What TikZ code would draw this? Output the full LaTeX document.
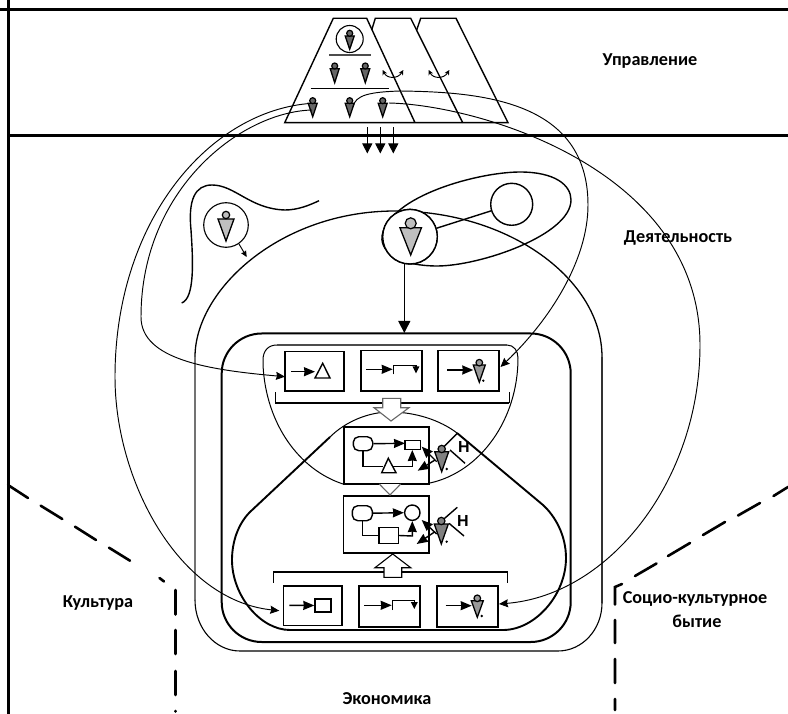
\documentclass[tikz,border=0pt]{standalone}
\usepackage{fontspec}
\setmainfont{Carlito}
\newfontfamily\hfont{Liberation Sans}
\usetikzlibrary{arrows.meta}
\tikzset{
  thinl/.style={line width=0.95pt,black},
  midl/.style={line width=1.4pt,black},
  thickl/.style={line width=2.1pt,black},
  framel/.style={line width=3pt,black},
  dashl/.style={line width=2.6pt,black,line cap=round},
  bx/.style={draw=black,line width=1.7pt,fill=white,inner sep=0pt,rectangle},
  inbx/.style={draw=black,line width=1.4pt,fill=white,inner sep=0pt,rectangle},
  rbx/.style={inbx,rounded corners=5.5pt},
  circ/.style={draw=black,circle,inner sep=0pt,fill=white},
  lbl/.style={font=\bfseries\fontsize{18.2}{20}\selectfont,align=center,inner sep=0pt},
  hl/.style={font=\hfont\bfseries\fontsize{16}{17}\selectfont,inner sep=0pt},
  tip/.style={-{Stealth[length=9pt,width=8pt,inset=1pt]}},
  intip/.style={-{Stealth[length=11pt,width=9pt,inset=0.5pt]}},
  smalltip/.style={-{Stealth[length=6pt,width=5.5pt,inset=0.5pt]}},
  bigtip/.style={-{Triangle[length=10pt,width=10pt]}},
  blockarrow/.style={draw=black!60,line width=1.1pt,fill=white,line join=miter},
}
% x, head y, head r, triangle top y, half width, tip y, fill
\newcommand{\fig}[7]{%
  \draw[line width=1.3pt,fill=#7,line join=miter] (#1-#5,#4)--(#1+#5,#4)--(#1,#6)--cycle;
  \draw[line width=1.2pt,fill=#7] (#1,#2) circle (#3);
}
\begin{document}
\begin{tikzpicture}[x=1pt,y=-1pt]
\useasboundingbox (0,0) rectangle (788,714);
% frame
\coordinate (ftl) at (8,0); \coordinate (fbl) at (8,714);
\coordinate (t1) at (0,10); \coordinate (t2) at (788,10);
\coordinate (m1) at (8,136); \coordinate (m2) at (788,136);
\draw[framel] (ftl)--(fbl);
\draw[framel] (t1)--(t2);
\draw[framel] (m1)--(m2);
% dashed borders
\draw[dashl] (8,485)--(28,498) (40.7,505.7)--(62.3,519) (75,526.7)--(96,540) (109,547.7)--(130,560.7) (159.5,578)--(164,581.5)
  (175.5,590)--(175.5,614.5) (175.5,630)--(175.5,654) (175.5,671)--(175.5,695) (175.5,711)--(175.5,711.5);
\draw[dashl] (788,487)--(773.5,496) (760,503)--(738,515.5) (725,522)--(703,535) (690,543)--(668,556) (635,576)--(656.5,563.5)
  (622,584)--(615,587)--(615,604.5) (615,620)--(615,643) (615,659)--(615,683) (615,699)--(615,710);
% trapezoids
\draw[midl,line join=miter] (371.7,30)--(375.3,18.3)--(410.7,18.3)--(462.7,122.7);
\draw[midl,line join=miter] (416.7,30)--(420.7,18.3)--(456,18.3)--(508,122.7)--(284.7,122.7)--(333.3,18.3)--(366.7,18.3)--(415,122.7);
\draw[line width=1.3pt,black!70] (329,55)--(370.7,55);
\draw[midl] (310.7,88.3)--(389,88.3);
\node[circ,line width=1.1pt,minimum size=27pt] (topc) at (349.7,39) {};
\fig{349.7}{33.3}{3}{36}{4.5}{49.3}{black!60}
\fig{334.7}{66}{3}{68.7}{4.5}{82.7}{black!60}
\fig{365.3}{66}{3}{68.7}{4.5}{82.7}{black!60}
\fig{312.7}{100.7}{3}{103.3}{4.5}{116.7}{black!60}
\fig{349.7}{100.7}{3}{103.3}{4.5}{116.7}{black!60}
\fig{382.7}{100.7}{3}{103.3}{4.5}{116.7}{black!60}
\coordinate (ca1) at (382.7,70); \coordinate (ca2) at (403.3,70);
\coordinate (cb1) at (428.7,70); \coordinate (cb2) at (449.3,70);
\draw[thinl,{Stealth[length=5pt,width=5pt]}-{Stealth[length=5pt,width=5pt]}] (ca1) .. controls (387,79) and (398,79) .. (ca2);
\draw[thinl,{Stealth[length=5pt,width=5pt]}-{Stealth[length=5pt,width=5pt]}] (cb1) .. controls (433,79) and (444,79) .. (cb2);
% down arrows
\foreach \n/\xx in {a/367.3,b/380.3,c/393.3}{
  \coordinate (d\n1) at (\xx,127.3); \coordinate (d\n2) at (\xx,153.5);
  \draw[thinl,bigtip] (d\n1)--(d\n2);
}
% outer activity shape
\draw[line width=1.3pt] (195,357) .. controls (195,290) and (280,211) .. (395,211) .. controls (510,211) and (602,280) .. (602,357);
\draw[line width=1.2pt,black!55] (195,357)--(195,600);
\draw[line width=1.2pt,black!80] (602,357)--(602,603);
\draw[line width=1.1pt] (195,600) arc (180:90:45 and 51) -- (558,651) arc (90:0:44 and 48);
% thick rounded rect
\draw[line width=2pt,rounded corners=40pt] (221.7,500)--(221.7,333.5)--(570.7,333.5)--(570.7,642)--(221.7,642)--cycle;
% lens
\draw[line width=1pt] (343,484) .. controls (300,470) and (266,425) .. (263,365) -- (263,360) .. controls (263,351) and (268,345) .. (277,345);
\draw[line width=1.4pt,black!70] (277,345)--(507,345);
\draw[line width=1pt] (507,345) .. controls (514,345) and (518,351) .. (518,358) .. controls (518,420) and (480,472) .. (430,483);
% lower thick shape
\draw[line width=1pt] (330,437) .. controls (345,422) and (368,412) .. (390,412) .. controls (415,412) and (440,420) .. (457,433);
\draw[line width=1.9pt] (330,437)--(250,512) .. controls (238,524) and (232,542) .. (232,560) .. controls (232,595) and (260,630) .. (290,630) -- (503,630) .. controls (535,630) and (566,595) .. (566,558) .. controls (566,535) and (555,516) .. (543,505) -- (457,433);
% activity figures
\draw[line width=1.4pt] (181.7,303) .. controls (195,298) and (193,260) .. (191,230) .. controls (188,200) and (195,185) .. (212,185) .. controls (235,185) and (250,209) .. (285,210) .. controls (298,210) and (310,205) .. (319,200.7);
\draw[line width=1.4pt] (382,236) .. controls (390,195) and (480,172) .. (520,172) .. controls (555,172) and (571,185) .. (571,200) .. controls (571,235) and (480,266) .. (437,266) .. controls (405,266) and (380,255) .. (382,236) -- cycle;
\node[circ,line width=1.1pt,minimum size=44.6pt] (pc1) at (226,225) {};
\fig{226}{215}{3.7}{219}{8}{241}{black!25}
\node[circ,line width=1.4pt,minimum size=54.6pt] (pc2) at (410,236.7) {};
\node[circ,line width=1.4pt,minimum size=42pt] (pc3) at (511.7,204.3) {};
\draw[midl] (pc2)--(pc3);
\node[circ,line width=1.4pt,minimum size=54.6pt] (pc2b) at (410,236.7) {};
\fig{410.7}{223.3}{5.5}{227.7}{10.8}{255}{black!25}
\coordinate (a1) at (239,244); \coordinate (a2) at (246.7,257);
\draw[thinl,smalltip] (a1)--(a2);
\coordinate (b1s) at (404.3,264); \coordinate (b1e) at (404.3,333);
\draw[thinl,-{Triangle[length=12pt,width=12pt]}] (b1s)--(b1e);
% boxes
\node[bx,minimum width=59pt,minimum height=39.3pt] (r1a) at (314.5,371.3) {};
\node[bx,minimum width=61pt,minimum height=40.3pt] (r1b) at (391.5,370.8) {};
\node[bx,minimum width=61pt,minimum height=40.3pt] (r1c) at (468.8,370.8) {};
\node[bx,minimum width=85pt,minimum height=57.3pt] (m1b) at (386.8,455.3) {};
\node[bx,minimum width=85.7pt,minimum height=57pt] (m2b) at (386.2,524.2) {};
\node[bx,minimum width=58.7pt,minimum height=39.3pt] (r2a) at (312.7,605.7) {};
\node[bx,minimum width=61pt,minimum height=40.7pt] (r2b) at (389.5,606.3) {};
\node[bx,minimum width=61pt,minimum height=40.7pt] (r2c) at (467.2,606.3) {};
% brackets
\draw[thinl] (275,392)--(275,402.7);
\draw[thinl] (509.3,392)--(509.3,402.7);
\draw[thickl] (275,402.7)--(509.3,402.7);
\draw[thinl] (273.3,582.7)--(273.3,571.7);
\draw[thinl] (507.7,582.7)--(507.7,571.7);
\draw[thickl] (273.3,571.7)--(507.7,571.7);
% block arrows
\draw[blockarrow] (382.7,398.3)--(400.7,398.3)--(400.7,407.7)--(409,407.7)--(391,421)--(374,407.7)--(382.7,407.7)--cycle;
\draw[blockarrow] (379.3,484)--(390,495)--(400.7,484);
\draw[line width=1.1pt,fill=white,line join=miter] (392.7,554)--(410.7,567.7)--(401.7,567.7)--(401.7,577.3)--(384,577.3)--(384,567.7)--(375,567.7)--cycle;
% row 1 contents
\coordinate (u1) at (291,371.7); \coordinate (u1e) at (315,371.7);
\draw[midl,intip] (u1)--(u1e);
\draw[midl,line join=miter] (315,378)--(322.7,363.3)--(330,378)--cycle;
\coordinate (u2) at (366,369.3); \coordinate (u2e) at (392.7,369.3);
\draw[midl,intip] (u2)--(u2e);
\coordinate (u3) at (393.7,374.3); \coordinate (u3b) at (416,365.7); \coordinate (u3e) at (416,373.5);
\draw[midl,-{Stealth[length=7pt,width=6.5pt,inset=0pt]}] (u3)|-(u3b)--(u3e);
\coordinate (u4) at (447.3,370); \coordinate (u4e) at (473.3,370);
\draw[midl,intip] (u4)--(u4e);
\fig{479.3}{362.7}{3.3}{365}{6}{382.3}{black!40}
\fill (483.3,380.7) circle (1.3);
% row 2 contents
\coordinate (v1) at (289.3,605.3); \node[inbx,minimum width=16pt,minimum height=13pt] (v1r) at (323,605.5) {};
\draw[midl,intip] (v1)--(v1r.west);
\coordinate (v2) at (364.3,605.3); \coordinate (v2e) at (391.7,605.3);
\draw[midl,intip] (v2)--(v2e);
\coordinate (v3) at (392.3,610); \coordinate (v3b) at (414.3,600.7); \coordinate (v3e) at (414.3,609);
\draw[midl,-{Stealth[length=7pt,width=6.5pt,inset=0pt]}] (v3)|-(v3b)--(v3e);
\coordinate (v4) at (445.7,605.7); \coordinate (v4e) at (471.7,605.7);
\draw[midl,intip] (v4)--(v4e);
\fig{477.3}{598.3}{3.3}{600.7}{6}{617.3}{black!40}
\fill (481.7,616) circle (1.3);
% middle box 1
\node[rbx,minimum width=19.4pt,minimum height=14pt] (s1) at (363,443.7) {};
\node[inbx,minimum width=15.7pt,minimum height=8.6pt] (s2) at (412.8,445) {};
\coordinate (s3l) at (383,466.7); \coordinate (s3r) at (393.3,466.7);
\coordinate (s4) at (412.3,466.7); \coordinate (s5) at (412.3,450);
\draw[midl,intip] (s1.east)--(405,443.3);
\draw[midl] (s1.south)|-(s3l);
\draw[midl,intip] (s3r)--(s4)--(s5);
\draw[midl,fill=white,line join=miter] (381.7,472.7)--(388.3,458.3)--(396,472.7)--cycle;
% middle box 2
\node[rbx,minimum width=20pt,minimum height=15pt] (w1) at (362.3,513.2) {};
\node[circ,line width=1.4pt,minimum size=15.4pt] (w2) at (412.3,512.7) {};
\node[inbx,minimum width=19.3pt,minimum height=15.6pt] (w3) at (388.7,535.5) {};
\coordinate (w4) at (412.3,536);
\draw[midl,intip] (w1.east)--(w2.west);
\draw[midl] (w1.south)|-(w3.west);
\draw[midl,intip] (w3.east)--(w4)--(w2.south);
% crossed figures
\coordinate (x1a) at (443.3,447.3); \coordinate (x1b) at (457.3,433.3);
\coordinate (x1c) at (450,450); \coordinate (x1d) at (465,463.3);
\draw[midl] (x1a)--(x1b) (x1c)--(x1d);
\fig{441.7}{449}{3.7}{451.7}{7}{471.7}{black!50}
\fill (446.7,469) circle (1.3);
\coordinate (y1s) at (436.7,461.7); \coordinate (y1e) at (421.7,446.7);
\coordinate (y2s) at (435,460); \coordinate (y2e) at (417.7,470.7);
\draw[midl,intip] (y1s)--(y1e);
\draw[midl,intip] (y2s)--(y2e);
\node[hl] (h1) at (464,447) {Н};
\coordinate (x2a) at (442.7,520); \coordinate (x2b) at (457.3,507.3);
\coordinate (x2c) at (449,523.3); \coordinate (x2d) at (464,536);
\draw[midl] (x2a)--(x2b) (x2c)--(x2d);
\fig{441.3}{521}{3.7}{524}{7}{544}{black!50}
\fill (446.7,541.7) circle (1.3);
\coordinate (z1s) at (436.7,534); \coordinate (z1e) at (421.7,520);
\coordinate (z2s) at (435,531.7); \coordinate (z2e) at (416.7,544);
\draw[midl,intip] (z1s)--(z1e);
\draw[midl,intip] (z2s)--(z2e);
\node[hl] (h2) at (463,520.7) {Н};
% long curves
\coordinate (p1) at (312,103.3); \coordinate (p1b) at (312,110);
\coordinate (p2) at (353,107); \coordinate (p3) at (389,103);
\coordinate (e1) at (279.3,610.7); \coordinate (e2) at (285,376.7);
\coordinate (e3) at (500.5,367); \coordinate (e4) at (499,604);
\draw[thinl,tip] (p1) .. controls (210,110) and (115,220) .. (115,377) .. controls (115,480) and (178,600) .. (e1);
\draw[thinl,tip] (p1b) .. controls (240,112) and (141,190) .. (141,317) .. controls (141,360) and (210,370) .. (e2);
\draw[thinl,tip] (p2) .. controls (355,95) and (370,92) .. (400,91) .. controls (480,92) and (588,100) .. (588,205) .. controls (588,260) and (550,320) .. (e3);
\draw[thinl,tip] (p3) .. controls (480,105) and (700,170) .. (700,345) .. controls (700,480) and (610,595) .. (e4);
% labels
\node[lbl] (l1) at (650,61) {Управление};
\node[lbl] (l2) at (678,238) {Деятельность};
\node[lbl] (l3) at (98,603) {Культура};
\node[lbl] (l4) at (387,699) {Экономика};
\node[lbl] (l5) at (695,599) {Социо-культурное};
\node[lbl] (l6) at (697,621) {бытие};
\end{tikzpicture}
\end{document}
